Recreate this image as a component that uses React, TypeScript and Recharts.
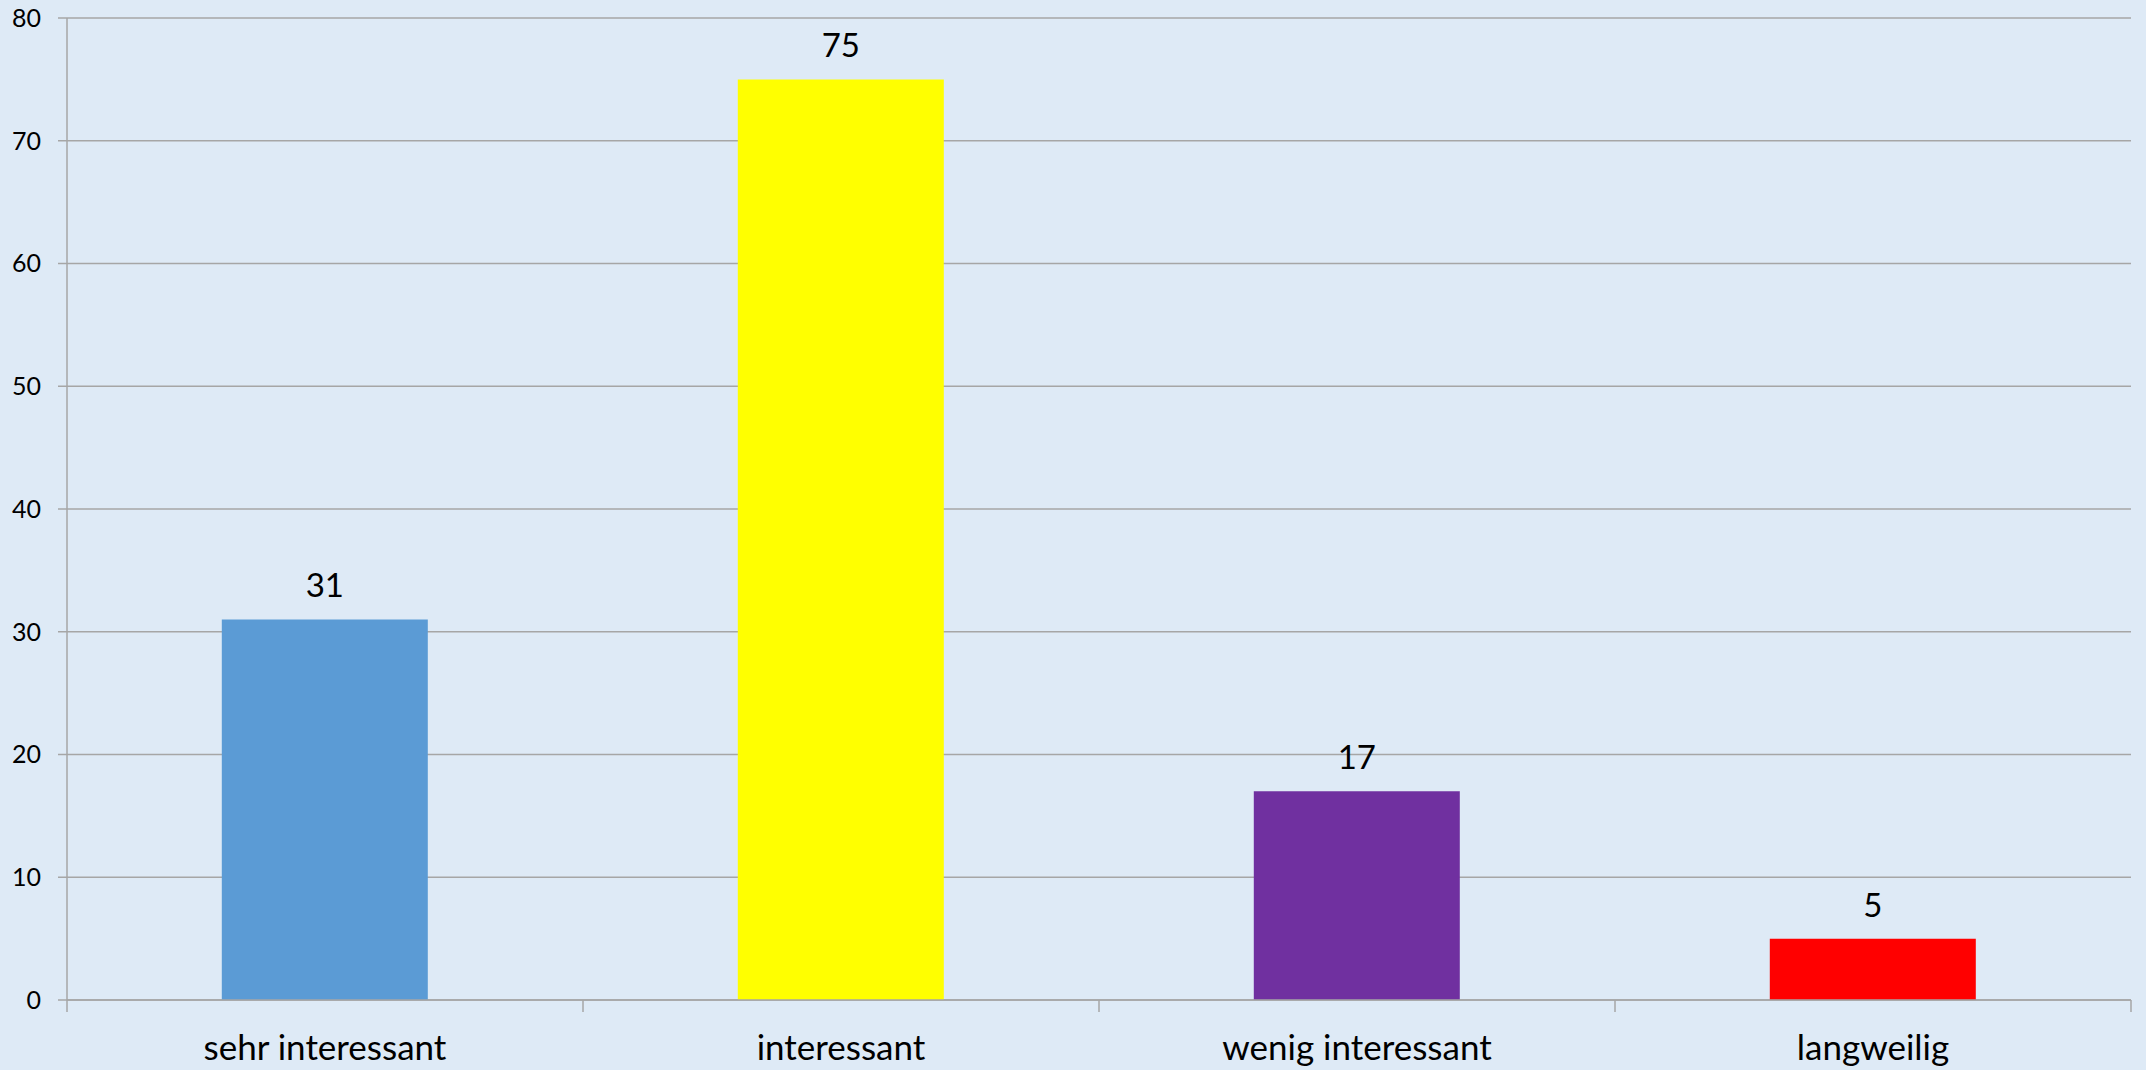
import { Bar, BarChart, CartesianGrid, Cell, LabelList, XAxis, YAxis } from 'recharts'

const categories = ['sehr interessant', 'interessant', 'wenig interessant', 'langweilig']
const values = [31, 75, 17, 5]
const barColors = ['#5B9BD5', '#FFFF00', '#7030A0', '#FF0000']
const yTicks = [0, 10, 20, 30, 40, 50, 60, 70, 80]

const data = categories.map((name, i) => ({ name, value: values[i] }))

const font = 'Lato, "Open Sans", sans-serif'
const gridGrey = '#A6A6A6'
const X_TICK_MARGIN = 35
const X_TICK_LEN = 12

// Excel puts the category tick marks on the band edges, so draw them here
function CategoryTick(props: any) {
  const { x, y, payload, index, visibleTicksCount } = props
  const half = payload?.offset ?? 0
  const axisY = y - X_TICK_MARGIN
  const isLast = index === visibleTicksCount - 1
  return (
    <g>
      <line x1={x - half} x2={x - half} y1={axisY} y2={axisY + X_TICK_LEN} stroke={gridGrey} strokeWidth={1.5} />
      {isLast && (
        <line x1={x + half} x2={x + half} y1={axisY} y2={axisY + X_TICK_LEN} stroke={gridGrey} strokeWidth={1.5} />
      )}
      <text x={x} y={y} dy="0.71em" textAnchor="middle" fill="#000" fontSize={35} fontFamily={font}>
        {payload.value}
      </text>
    </g>
  )
}

export default function App() {
  return (
    <div
      style={{
        position: 'fixed',
        top: 0,
        left: 0,
        width: 2146,
        height: 1070,
        background: '#DEEAF6',
        fontFamily: font,
      }}
    >
      <BarChart
        width={2146}
        height={1070}
        data={data}
        margin={{ top: 18, right: 15, left: 0, bottom: 0 }}
        barCategoryGap="30%"
      >
        <CartesianGrid stroke={gridGrey} strokeWidth={1.5} vertical={false} />
        <XAxis
          dataKey="name"
          height={70}
          tickLine={false}
          tickSize={0}
          tickMargin={X_TICK_MARGIN}
          axisLine={{ stroke: gridGrey, strokeWidth: 1.5 }}
          tick={<CategoryTick />}
          interval={0}
        />
        <YAxis
          width={67}
          domain={[0, 80]}
          ticks={yTicks}
          interval={0}
          tickSize={9}
          tickMargin={17}
          axisLine={{ stroke: gridGrey, strokeWidth: 1.5 }}
          tickLine={{ stroke: gridGrey, strokeWidth: 1.5 }}
          tick={{ fill: '#000', fontSize: 25, fontFamily: font }}
        />
        <Bar dataKey="value" isAnimationActive={false}>
          {data.map((d, i) => (
            <Cell key={d.name} fill={barColors[i]} />
          ))}
          <LabelList
            dataKey="value"
            position="top"
            offset={22}
            fill="#000"
            fontSize={33}
            fontFamily={font}
          />
        </Bar>
      </BarChart>
    </div>
  )
}
